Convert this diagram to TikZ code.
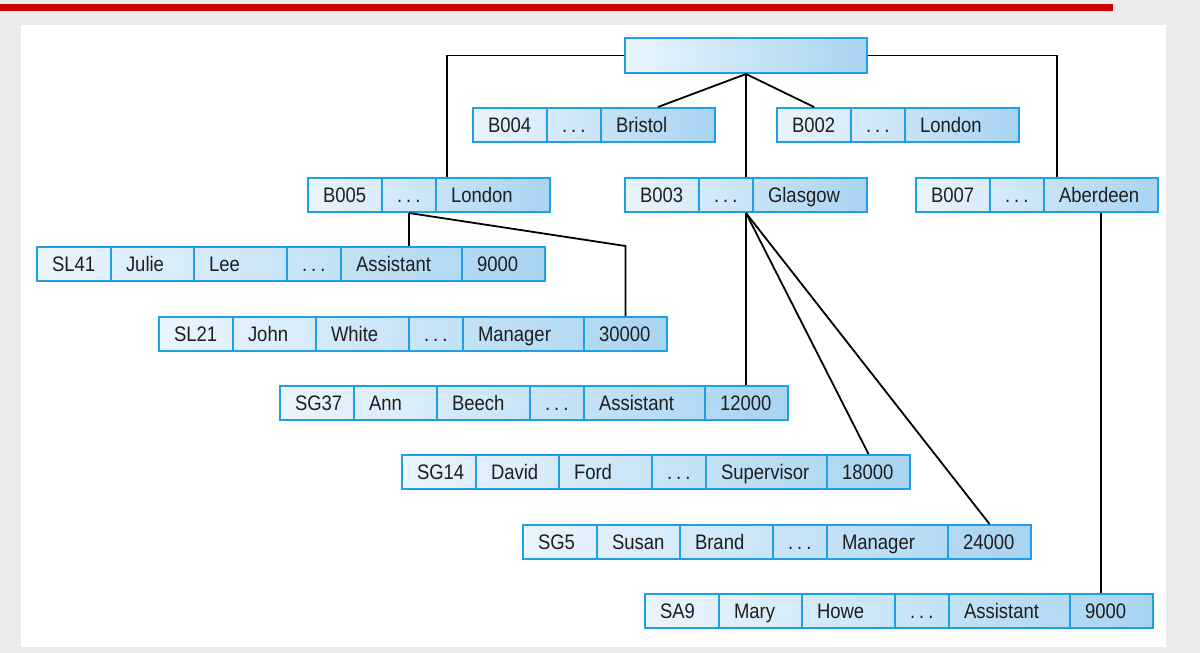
\documentclass[tikz,border=0pt]{standalone}
\usepackage{fontspec}
\setmainfont{Liberation Sans}[FakeStretch=0.88]
\definecolor{cellblue}{HTML}{1E9FE6}
\definecolor{shL}{HTML}{EAF5FD}
\definecolor{shR}{HTML}{A8D4F2}
\definecolor{bggray}{HTML}{EBEBEB}
\definecolor{redbar}{HTML}{CC0000}
\definecolor{txt}{HTML}{1E1E1E}
\tikzset{
  rowshade/.style={anchor=north west, minimum height=34pt, inner sep=0pt, left color=shL, right color=shR, draw=none},
  cell/.style={draw=cellblue, line width=2pt, anchor=north west, minimum height=34pt, inner xsep=15pt, inner ysep=0pt,
    text height=15pt, text depth=0pt, align=left, font=\fontsize{21}{25}\selectfont, text=txt},
  conn/.style={draw=black, line width=1.8pt},
}
\newcommand\mkcell[5]{\pgfmathsetmacro\mytw{#4-30}\node[cell, minimum width=#4pt, text width=\mytw pt] (#1) at (#2,#3) {#5};}
\newcommand\dts{.\hspace{4pt}.\hspace{4pt}.}
\newcommand\branchrow[5]{%
  \node[rowshade, minimum width=242pt] (#1) at (#2,#3) {};
  \pgfmathsetmacro\xb{#2+74}\pgfmathsetmacro\xc{#2+128}%
  \mkcell{#1-1}{#2}{#3}{74}{#4}%
  \mkcell{#1-2}{\xb}{#3}{54}{\dts}%
  \mkcell{#1-3}{\xc}{#3}{114}{#5}%
}
\newcommand\staffrow[8]{%
  \node[rowshade, minimum width=508pt] (#1) at (#2,#3) {};
  \pgfmathsetmacro\xb{#2+74}\pgfmathsetmacro\xc{#2+157}\pgfmathsetmacro\xd{#2+250}%
  \pgfmathsetmacro\xe{#2+304}\pgfmathsetmacro\xf{#2+425}%
  \mkcell{#1-1}{#2}{#3}{74}{#4}%
  \mkcell{#1-2}{\xb}{#3}{83}{#5}%
  \mkcell{#1-3}{\xc}{#3}{93}{#6}%
  \mkcell{#1-4}{\xd}{#3}{54}{\dts}%
  \mkcell{#1-5}{\xe}{#3}{121}{#7}%
  \mkcell{#1-6}{\xf}{#3}{83}{#8}%
}
\begin{document}
\begin{tikzpicture}[x=1pt,y=-1pt]
\useasboundingbox (0,0) rectangle (1200,653);
\fill[bggray] (0,0) rectangle (1200,653);
\fill[white] (21,25) rectangle (1166,647);
\fill[redbar] (0,4) rectangle (1113,11);
% root
\node[rowshade, minimum width=242pt, minimum height=35pt] (rootsh) at (624,37) {};
\node[cell, minimum width=242pt, minimum height=35pt] (root) at (624,37) {};
% branches
\branchrow{b004}{472}{107}{B004}{Bristol}
\branchrow{b002}{776}{107}{B002}{London}
\branchrow{b005}{307}{177}{B005}{London}
\branchrow{b003}{624}{177}{B003}{Glasgow}
\branchrow{b007}{915}{177}{B007}{Aberdeen}
% staff
\staffrow{sl41}{36}{246}{SL41}{Julie}{Lee}{Assistant}{9000}
\staffrow{sl21}{158}{316}{SL21}{John}{White}{Manager}{30000}
\staffrow{sg37}{279}{385}{SG37}{Ann}{Beech}{Assistant}{12000}
\staffrow{sg14}{401}{454}{SG14}{David}{Ford}{Supervisor}{18000}
\staffrow{sg5}{522}{524}{SG5}{Susan}{Brand}{Manager}{24000}
\staffrow{sa9}{644}{593}{SA9}{Mary}{Howe}{Assistant}{9000}
% connectors
\coordinate (lft) at ([xshift=12pt]b005-3.north west);
\coordinate (rgt) at ([xshift=14pt]b007-3.north west);
\draw[conn] (root.west) -| (lft);
\draw[conn] (root.east) -| (rgt);
\draw[conn] (root.south) -- (b004-3.north);
\draw[conn] (root.south) -- (b002-1.north);
\draw[conn] (root.south) -- (root.south |- b003-1.north);
\draw[conn] (b005-2.south) -- (b005-2.south |- sl41-1.north);
\draw[conn] (b005-2.south) -- (sl21-6.north |- sl41-1.north) -- (sl21-6.north);
\coordinate (b3o) at (root.south |- b003-1.south);
\draw[conn] (b3o) -- (b3o |- sg37-1.north);
\draw[conn] (b3o) -- (sg14-6.north);
\draw[conn] (b3o) -- (sg5-6.north);
\draw[conn] (b007-3.south) -- (b007-3.south |- sa9-1.north);
\end{tikzpicture}
\end{document}
